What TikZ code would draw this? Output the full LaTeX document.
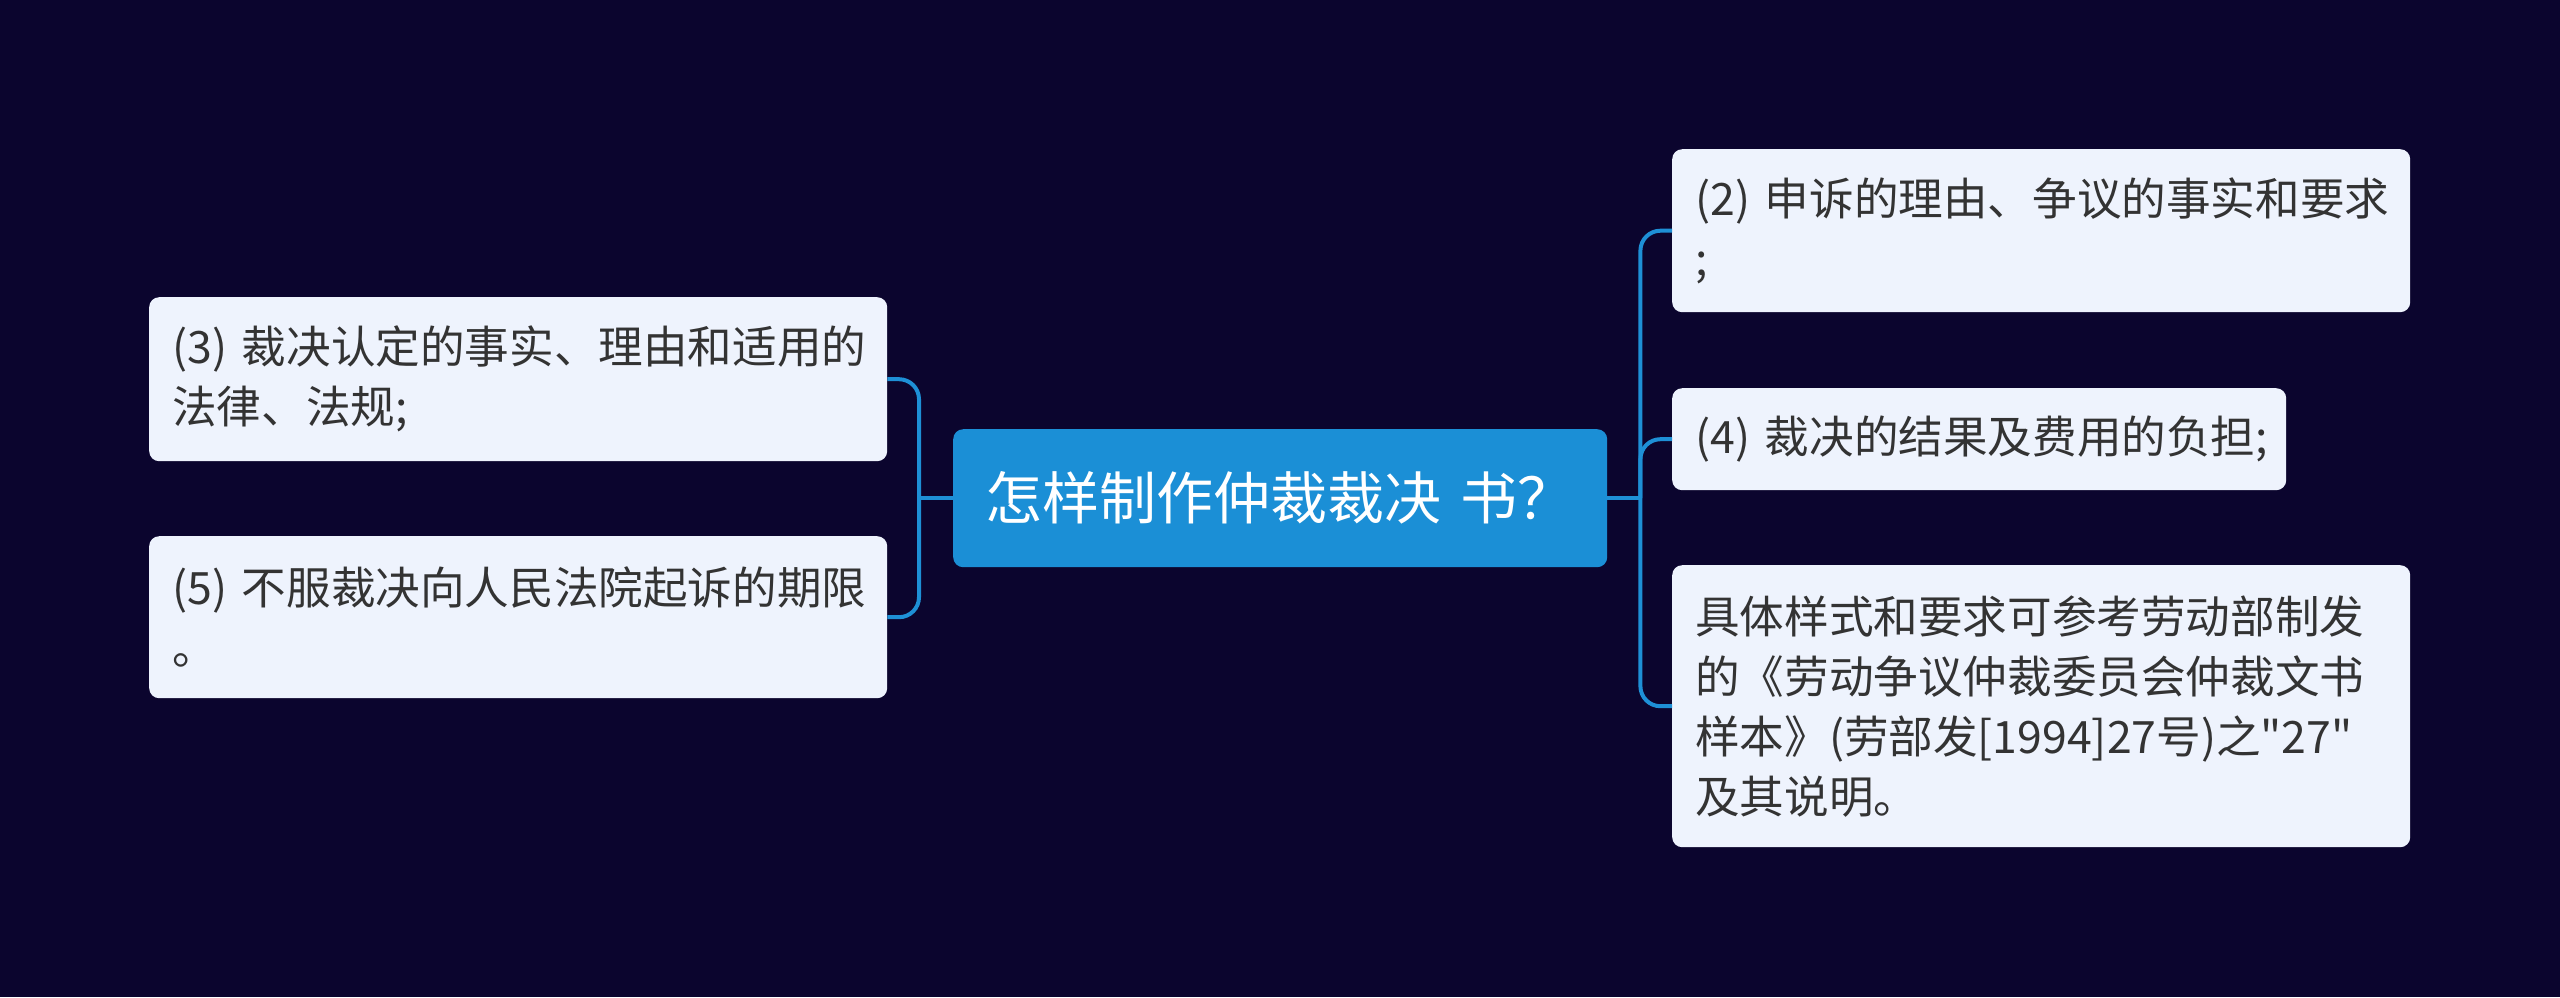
\documentclass[tikz,border=0pt]{standalone}
\usepackage{fontspec}
\setmainfont{Noto Sans CJK SC}[Ligatures=TeXOff]
\definecolor{bgc}{RGB}{11,5,46}
\definecolor{rootfill}{RGB}{27,143,214}
\definecolor{linec}{RGB}{30,144,214}
\definecolor{leaffill}{RGB}{238,243,253}
\definecolor{txt}{RGB}{51,51,51}
\begin{document}
\begin{tikzpicture}[x=1pt,y=-1pt,
  leaf/.style={fill=leaffill, rounded corners=10pt, anchor=north west,
    inner xsep=23pt, inner ysep=0pt, align=left, text=txt,
    font=\fontsize{44.6}{60}\selectfont},
  root/.style={fill=rootfill, rounded corners=10pt, anchor=north west,
    inner xsep=32pt, inner ysep=0pt, align=left, text=white,
    text width=590pt, minimum height=138pt,
    font=\fontsize{57}{66}\selectfont},
  conn/.style={draw=linec, line width=4pt, rounded corners=20pt}
]
\useasboundingbox (0,0) rectangle (2560,997);
\fill[bgc] (0,0) rectangle (2560,997);

\node[root] (c) at (953,429) {怎样制作仲裁裁决 书？};

\node[leaf, text width=692pt, minimum height=163pt] (n2) at (1672,149)
  {(2)~申诉的理由、争议的事实和要求\\;};
\node[leaf, text width=568pt, minimum height=102pt] (n4) at (1672,388)
  {(4)~裁决的结果及费用的负担;};
\node[leaf, text width=692pt, minimum height=282pt] (n6) at (1672,565)
  {具体样式和要求可参考劳动部制发\\的《劳动争议仲裁委员会仲裁文书\\样本》(劳部发[1994]27号)之"27"\\及其说明。};
\node[leaf, text width=692pt, minimum height=164pt] (n3) at (149,297)
  {(3)~裁决认定的事实、理由和适用的\\法律、法规;};
\node[leaf, text width=692pt, minimum height=162pt] (n5) at (149,536)
  {(5)~不服裁决向人民法院起诉的期限\\。};

\path (c.east) ++(33,0) coordinate (jr);
\path (c.west) ++(-34,0) coordinate (jl);

\draw[conn] (c.east) -- (jr);
\draw[conn] (jr) |- (n2.west);
\draw[conn] (jr) |- (n4.west);
\draw[conn] (jr) |- (n6.west);
\draw[conn] (c.west) -- (jl);
\draw[conn] (jl) |- (n3.east);
\draw[conn] (jl) |- (n5.east);
\end{tikzpicture}
\end{document}
